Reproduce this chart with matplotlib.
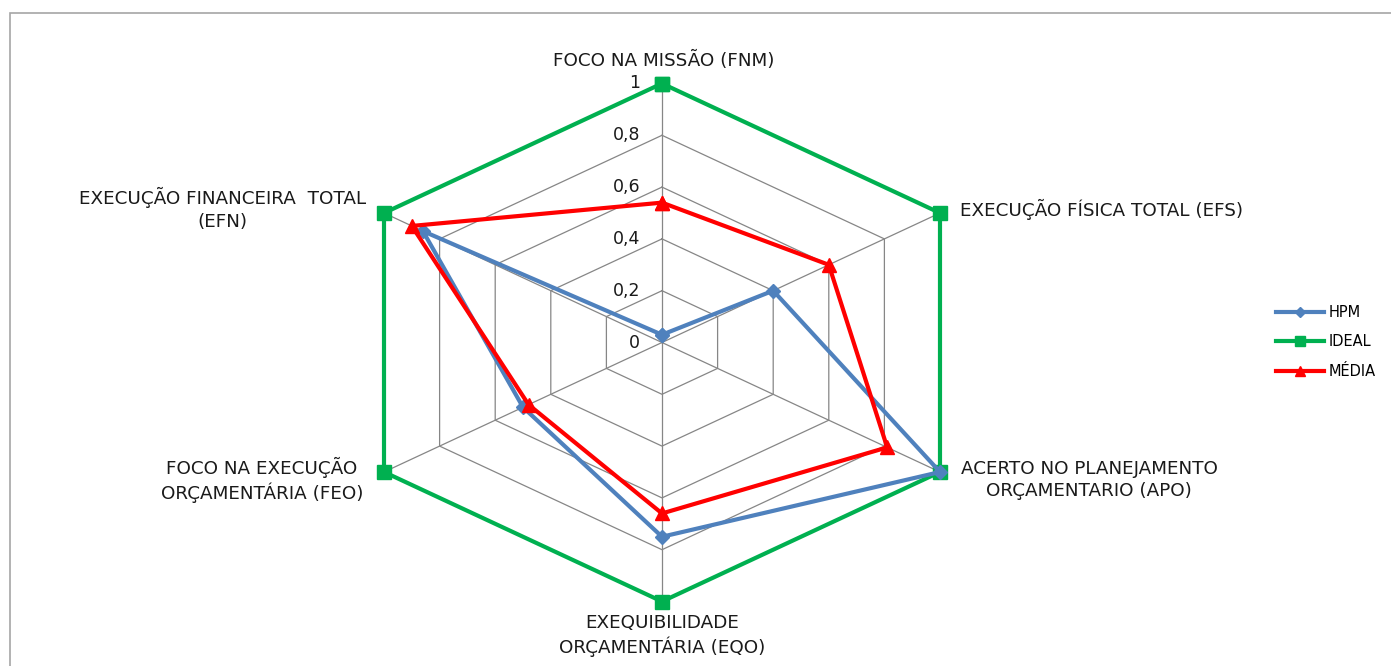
import numpy as np
import matplotlib
matplotlib.use('Agg')
import matplotlib.pyplot as plt
from matplotlib.patches import Rectangle
from matplotlib.lines import Line2D

plt.rcParams['font.family'] = 'DejaVu Sans'

categorias = ['FOCO NA MISSÃO (FNM)', 'EXECUÇÃO FÍSICA TOTAL (EFS)',
              'ACERTO NO PLANEJAMENTO\nORÇAMENTARIO (APO)',
              'EXEQUIBILIDADE\nORÇAMENTÁRIA (EQO)',
              'FOCO NA EXECUÇÃO\nORÇAMENTÁRIA (FEO)',
              'EXECUÇÃO FINANCEIRA  TOTAL\n(EFN)']
hpm = [0.03, 0.40, 1.0, 0.75, 0.50, 0.86]
ideal = [1, 1, 1, 1, 1, 1]
media = [0.54, 0.60, 0.81, 0.66, 0.48, 0.90]
niveis = [0, 0.2, 0.4, 0.6, 0.8, 1]
rotulos_niveis = ['0', '0,2', '0,4', '0,6', '0,8', '1']

W, H = 1391, 666
fig = plt.figure(figsize=(W / 100, H / 100), dpi=100)

# moldura do gráfico (Excel)
fig.patches.append(Rectangle((10 / W, -0.1), 1.2, 653 / H + 0.1, transform=fig.transFigure,
                             fill=False, edgecolor='#A6A6A6', lw=1.2))

cx, cy, sx, sy = 662, 342.5, 321, 259
ax = fig.add_axes([(cx - sx) / W, (H - cy - sy) / H, 2 * sx / W, 2 * sy / H], projection='polar')
ax.set_aspect('auto')
ax.set_theta_zero_location('N')
ax.set_theta_direction(-1)
ax.set_ylim(0, 1)
ax.set_xticks([])
ax.set_yticks([])
ax.grid(False)
ax.spines['polar'].set_visible(False)
ax.patch.set_visible(False)

ang = np.arange(len(categorias)) * 2 * np.pi / len(categorias)
ang_f = np.append(ang, ang[0])

cinza = '#868686'
for r in niveis[1:]:
    ax.plot(ang_f, [r] * len(ang_f), color=cinza, lw=0.9, zorder=1)
for a in ang:
    ax.plot([a, a], [0, 1], color=cinza, lw=0.9, zorder=1)

def fecha(v):
    return list(v) + [v[0]]

ax.plot(ang_f, fecha(ideal), color='#00B050', lw=3, marker='s', ms=10.5, clip_on=False, zorder=3)
ax.plot(ang_f, fecha(hpm), color='#4F81BD', lw=3, marker='D', ms=7, clip_on=False, zorder=4)
ax.plot(ang_f, fecha(media), color='#FF0000', lw=3, marker='^', ms=10.5, clip_on=False, zorder=5)

# rótulos dos níveis
for r, t in zip(niveis, rotulos_niveis):
    ax.annotate(t, xy=(0, r), xytext=(-22, 0), textcoords='offset pixels',
                ha='right', va='center', fontsize=12.5, color='#1a1a1a')

# rótulos das categorias
fs = 13.2
cor = '#1a1a1a'
ax.annotate(categorias[0], xy=(ang[0], 1), xytext=(2, 23), textcoords='offset pixels',
            ha='center', va='center', fontsize=fs, color=cor, annotation_clip=False)
ax.annotate(categorias[1], xy=(ang[1], 1), xytext=(20, 4), textcoords='offset pixels',
            ha='left', va='center', fontsize=fs, color=cor, annotation_clip=False)
ax.annotate(categorias[2], xy=(ang[2], 1), xytext=(21, -8), textcoords='offset pixels',
            ha='left', va='center', multialignment='center', fontsize=fs, color=cor,
            linespacing=1.3, annotation_clip=False)
ax.annotate(categorias[3], xy=(ang[3], 1), xytext=(0, -34), textcoords='offset pixels',
            ha='center', va='center', multialignment='center', fontsize=fs, color=cor,
            linespacing=1.3, annotation_clip=False)
ax.annotate(categorias[4], xy=(ang[4], 1), xytext=(-21, -8), textcoords='offset pixels',
            ha='right', va='center', multialignment='center', fontsize=fs, color=cor,
            linespacing=1.3, annotation_clip=False)
ax.annotate(categorias[5], xy=(ang[5], 1), xytext=(-18, 4), textcoords='offset pixels',
            ha='right', va='center', multialignment='center', fontsize=fs, color=cor,
            linespacing=1.3, annotation_clip=False)

handles = [Line2D([], [], color='#4F81BD', lw=3, marker='D', ms=5),
           Line2D([], [], color='#00B050', lw=3, marker='s', ms=7),
           Line2D([], [], color='#FF0000', lw=3, marker='^', ms=7)]
fig.legend(handles, ['HPM', 'IDEAL', 'MÉDIA'], loc='center left',
           bbox_to_anchor=(1263 / W, (H - 342) / H), frameon=False, fontsize=10.5,
           handlelength=3.3, handletextpad=0.3, labelspacing=1.0)

fig.savefig('out.png', dpi=100)
